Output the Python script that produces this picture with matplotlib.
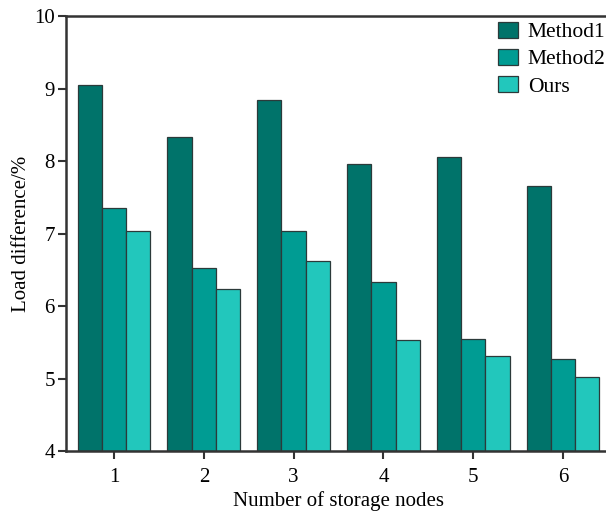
import matplotlib
matplotlib.use("Agg")
import matplotlib.pyplot as plt
import numpy as np

plt.rcParams['font.family'] = ['Liberation Serif', 'DejaVu Serif']

nodes = [1, 2, 3, 4, 5, 6]
method1 = [9.05, 8.33, 8.84, 7.96, 8.06, 7.66]
method2 = [7.35, 6.53, 7.03, 6.33, 5.55, 5.27]
ours = [7.03, 6.23, 6.62, 5.53, 5.31, 5.02]
series_names = ['Method1', 'Method2', 'Ours']
colors = ['#00736a', '#009c93', '#22c7bc']

fig = plt.figure(figsize=(6.06, 5.15), dpi=100)
ax = fig.add_axes([66/606, 64/515, 545/606, 435/515])

x = np.array(nodes, dtype=float)
w = 0.27
for i, (vals, name) in enumerate(zip([method1, method2, ours], series_names)):
    ax.bar(x + (i - 1) * w, np.array(vals) - 4, w, bottom=4, color=colors[i],
           edgecolor='#2b3a3a', linewidth=0.9, label=name)

ax.set_xlim(0.465, 6.535)
ax.set_ylim(4, 10)
ax.set_xticks(nodes)
ax.set_yticks([4, 5, 6, 7, 8, 9, 10])
ax.tick_params(labelsize=15, width=1.5, length=6, direction='out', color='#333333')
ax.tick_params(axis='x', pad=6)
ax.tick_params(axis='y', pad=2)
ax.spines['right'].set_visible(False)
for s in ['left', 'bottom', 'top']:
    ax.spines[s].set_linewidth(1.8)
    ax.spines[s].set_color('#333333')
ax.set_xlabel('Number of storage nodes', fontsize=15, labelpad=3)
ax.set_ylabel('Load difference/%', fontsize=15, labelpad=2)

ax.legend(loc='upper left', bbox_to_anchor=(489/606, 1 - 13/515),
          bbox_transform=fig.transFigure, frameon=False, fontsize=15.5,
          handlelength=0.95, handleheight=0.8, labelspacing=0.3,
          handletextpad=0.45, borderaxespad=0)

fig.savefig('out.png', dpi=100)
